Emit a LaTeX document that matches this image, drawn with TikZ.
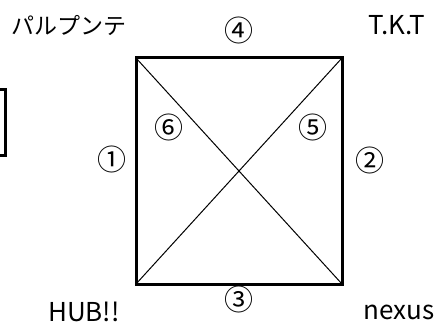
\documentclass[tikz,border=0pt]{standalone}
\usepackage{fontspec}
\setmainfont{Noto Sans CJK JP}
\begin{document}
\begin{tikzpicture}[x=1pt,y=-1pt,
  lbl/.style={inner sep=0pt,font=\fontsize{23}{23}\selectfont},
  lat/.style={inner sep=0pt,font=\fontsize{26}{26}\selectfont},
  num/.style={inner sep=0pt,font=\fontsize{29}{29}\selectfont},
  frame/.style={line width=3pt},
  diag/.style={line width=1pt}]
\useasboundingbox (0,0) rectangle (437,329);
\clip (0,0) rectangle (437,329);
\coordinate (tl) at (136,58);
\coordinate (tr) at (342,58);
\coordinate (br) at (342,284);
\coordinate (bl) at (136,284);
\draw[diag] (tl) -- (br);
\draw[diag] (tr) -- (bl);
\draw[frame] (tl) -- (tr) -- (br) -- (bl) -- cycle;
\draw[frame] (-20,90) rectangle (5,155);
\node[lbl] (p) at (69,25) {パルプンテ};
\node[lat] (t) at (397,25) {T.K.T};
\node[lat] (h) at (84,312) {HUB!!};
\node[lat] (n) at (399,312) {nexus};
\node[num] (n4) at (239,30) {④};
\node[num] (n6) at (169,127) {⑥};
\node[num] (n5) at (313,127) {⑤};
\node[num] (n1) at (112,159) {①};
\node[num] (n2) at (370,160) {②};
\node[num] (n3) at (239,299) {③};
\end{tikzpicture}
\end{document}
